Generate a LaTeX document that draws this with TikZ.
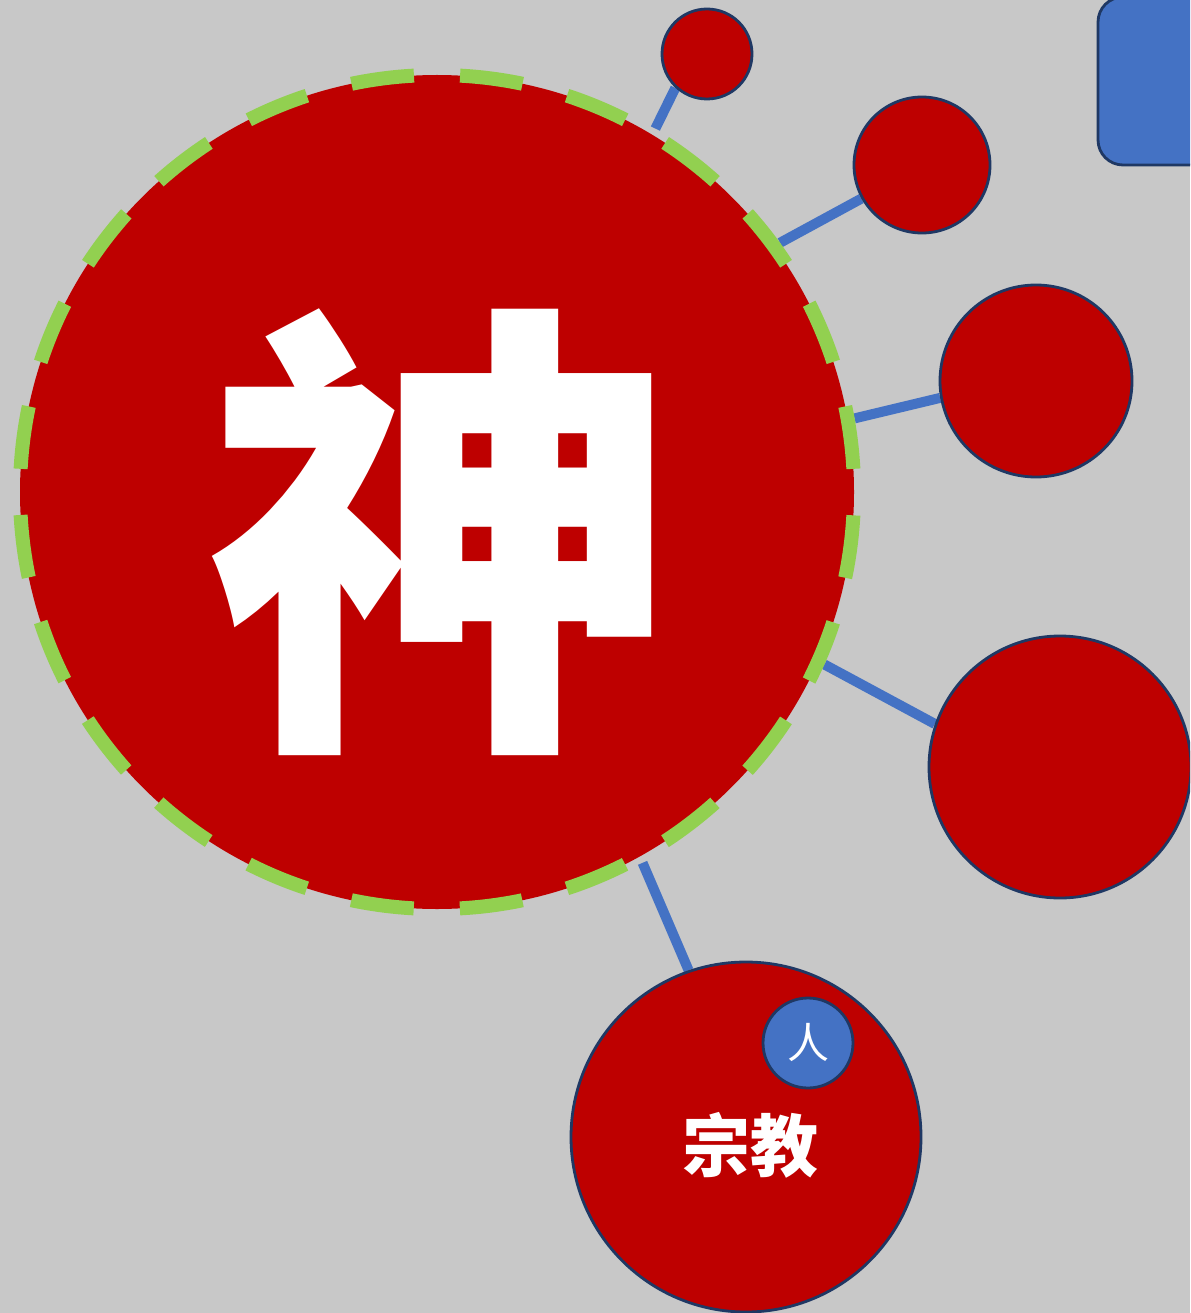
\documentclass[tikz,border=0pt]{standalone}
\usepackage{fontspec}
\newfontfamily\cjk{Noto Sans CJK SC}
\usetikzlibrary{backgrounds}

\definecolor{bggray}{RGB}{200,200,200}
\definecolor{deepred}{RGB}{190,0,0}
\definecolor{linkblue}{RGB}{68,114,196}
\definecolor{ringgreen}{RGB}{146,208,80}
\definecolor{navy}{RGB}{31,56,100}

\begin{document}
\begin{tikzpicture}[x=1pt,y=-1pt,
  bubble/.style={circle,fill=deepred,draw=navy,line width=2.8pt,inner sep=0pt},
  link/.style={draw=linkblue,line width=10pt},
  glyph/.style={text=white,inner sep=0pt}]

  \useasboundingbox (0,0) rectangle (1190,1313);
  \clip (0,0) rectangle (1190,1313);

  \node[circle,fill=deepred,draw=ringgreen,line width=14pt,
        dash pattern=on 63pt off 46.17pt,dash phase=86pt,
        minimum size=834pt,inner sep=0pt]   (god) at (437,492) {};
  \node[glyph,font=\cjk\bfseries\fontsize{470}{470}\selectfont]
        at ([shift={(6,40)}]god.center) {神};

  \node[bubble,minimum size=90pt]   (sat1) at (707,54) {};
  \node[bubble,minimum size=136pt]  (sat2) at (922,165) {};
  \node[bubble,minimum size=192pt]  (sat3) at (1036,381) {};
  \node[bubble,minimum size=262pt]  (sat4) at (1060,767) {};
  \node[bubble,minimum size=350pt]  (religion) at (746,1137) {};
  \node[glyph,font=\cjk\bfseries\fontsize{68}{68}\selectfont]
        at ([shift={(4,8)}]religion.center) {宗教};

  \node[bubble,fill=linkblue,minimum size=90pt,text=white,
        font=\cjk\fontsize{42}{42}\selectfont] (person) at (808,1043) {人};

  \node[rectangle,rounded corners=25pt,fill=linkblue,draw=navy,line width=2.8pt,
        minimum width=162pt,minimum height=168pt] (tab) at (1179,81) {};

  \begin{scope}[on background layer]
    \fill[bggray] (0,0) rectangle (1190,1313);
    \path
    (god.59)  edge[link] (sat1.227)
    (god.36)  edge[link] (sat2.209)
    (god.10)  edge[link] (sat3.190)
    (god.-24) edge[link] (sat4.161)
    (god.-61) edge[link] (religion.109);
  \end{scope}
\end{tikzpicture}
\end{document}
